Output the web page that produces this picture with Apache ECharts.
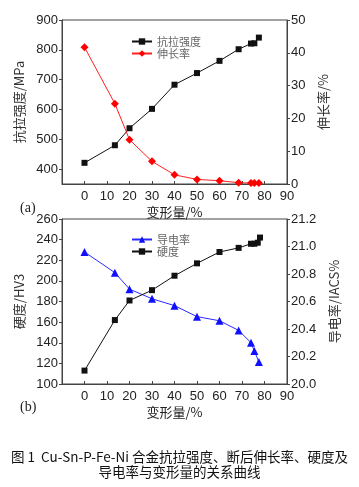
<!DOCTYPE html>
<html><head><meta charset="utf-8">
<script src="https://cdn.jsdelivr.net/npm/echarts@6/dist/echarts.min.js"></script>
<style>html,body{margin:0;padding:0;background:#fff}#c{width:359px;height:487px}</style>
</head><body><div id="c"></div>
<script>
// Top chart (a)
const deformA = [0, 13.5, 20, 30, 40, 50, 60, 68.5, 74, 75.5, 77.5];
const tensile = [421, 480, 537, 602, 683, 722, 763, 802, 821, 822, 841];
const elongation = [41.7, 24.5, 13.5, 6.9, 2.8, 1.4, 1.0, 0.4, 0.3, 0.3, 0.3];
// Bottom chart (b)
const deformH = [0, 13.5, 20, 30, 40, 50, 60, 68.5, 74, 75.5, 77, 78];
const hardness = [113, 162, 181, 191, 205, 217, 228, 232, 236, 236, 237, 242];
const deformC = [0, 13.5, 20, 30, 40, 50, 60, 68.5, 74, 75.5, 77.5];
const conductivity = [20.96, 20.81, 20.69, 20.62, 20.57, 20.49, 20.46, 20.39, 20.30, 20.24, 20.16];
const xTicks = [0, 10, 20, 30, 40, 50, 60, 70, 80, 90];
const tensileTicks = [400, 500, 600, 700, 800, 900];

const pairs = (xs, ys) => xs.map((x, i) => [x, ys[i]]);
const chart = echarts.init(document.getElementById('c'), null, {renderer: 'canvas'});
const font = 'Liberation Sans, Arial, sans-serif';
const cjk = 'Noto Sans CJK SC, sans-serif';
const axisCol = '#444';
const labelStyle = {color: '#222', fontSize: 13, fontFamily: font};

function xAxis(grid) {
  return {
    type: 'value', gridIndex: grid, min: -10, max: 90,
    name: '变形量/%', nameLocation: 'middle', nameGap: 22,
    nameTextStyle: {color: '#222', fontSize: 13, fontFamily: cjk},
    axisLine: {onZero: false, lineStyle: {color: axisCol}},
    axisTick: {inside: true, length: 3, customValues: xTicks, lineStyle: {color: axisCol}},
    axisLabel: Object.assign({customValues: xTicks, margin: 6}, labelStyle),
    splitLine: {show: false}
  };
}
function yAxis(grid, pos, opts) {
  return Object.assign({
    type: 'value', gridIndex: grid, position: pos,
    nameLocation: 'middle',
    nameTextStyle: {color: '#333', fontSize: 13, fontFamily: cjk},
    axisLine: {show: true, onZero: false, lineStyle: {color: axisCol}},
    axisTick: {show: true, length: 3, lineStyle: {color: axisCol}},
    axisLabel: Object.assign({margin: 4}, labelStyle),
    splitLine: {show: false}
  }, opts);
}

const option = {
  animation: false,
  grid: [
    {left: 62, right: 72, top: 20, height: 164, show: true, borderColor: axisCol, borderWidth: 1},
    {left: 62, right: 72, top: 219, height: 165, show: true, borderColor: axisCol, borderWidth: 1}
  ],
  xAxis: [xAxis(0), xAxis(1)],
  yAxis: [
    yAxis(0, 'left', {min: 350, max: 900, name: '抗拉强度/MPa', nameGap: 27,
      axisTick: {show: true, length: 3, customValues: tensileTicks, lineStyle: {color: axisCol}},
      axisLabel: Object.assign({margin: 4, customValues: tensileTicks}, labelStyle)}),
    yAxis(0, 'right', {min: 0, max: 50, interval: 10, name: '伸长率/%', nameGap: 23}),
    yAxis(1, 'left', {min: 100, max: 260, interval: 20, name: '硬度/HV3', nameGap: 27}),
    yAxis(1, 'right', {min: 20.0, max: 21.2, interval: 0.2, name: '导电率/IACS%', nameGap: 30,
      axisLabel: Object.assign({margin: 4, formatter: v => v.toFixed(1)}, labelStyle)})
  ],
  legend: [
    {orient: 'vertical', left: 126, top: 31, itemGap: 1, itemWidth: 20, itemHeight: 8,
     textStyle: {color: '#666', fontSize: 11, fontFamily: cjk},
     data: ['抗拉强度', '伸长率']},
    {orient: 'vertical', left: 126, top: 229, itemGap: 1, itemWidth: 20, itemHeight: 8,
     textStyle: {color: '#666', fontSize: 11, fontFamily: cjk},
     data: ['导电率', '硬度']}
  ],
  series: [
    {name: '抗拉强度', type: 'line', xAxisIndex: 0, yAxisIndex: 0, data: pairs(deformA, tensile),
     symbol: 'rect', symbolSize: 6, itemStyle: {color: '#111'}, lineStyle: {color: '#111', width: 1}},
    {name: '伸长率', type: 'line', xAxisIndex: 0, yAxisIndex: 1, data: pairs(deformA, elongation),
     symbol: 'diamond', symbolSize: 8, itemStyle: {color: '#ff0000'}, lineStyle: {color: '#ff2020', width: 1}},
    {name: '导电率', type: 'line', xAxisIndex: 1, yAxisIndex: 3, data: pairs(deformC, conductivity),
     symbol: 'triangle', symbolSize: 8, itemStyle: {color: '#1010ff'}, lineStyle: {color: '#2a2aff', width: 1}},
    {name: '硬度', type: 'line', xAxisIndex: 1, yAxisIndex: 2, data: pairs(deformH, hardness),
     symbol: 'rect', symbolSize: 6, itemStyle: {color: '#111'}, lineStyle: {color: '#111', width: 1}}
  ],
  graphic: [
    {type: 'text', left: 20, top: 201, style: {text: '(a)', fontSize: 14, fontFamily: 'Liberation Serif, serif', fill: '#222'}},
    {type: 'text', left: 20, top: 400, style: {text: '(b)', fontSize: 14, fontFamily: 'Liberation Serif, serif', fill: '#222'}},
    {type: 'text', x: 179.5, y: 457, style: {text: '图 1  Cu-Sn-P-Fe-Ni 合金抗拉强度、断后伸长率、硬度及', fontSize: 13.5, fontFamily: cjk, fill: '#111', align: 'center', verticalAlign: 'middle'}},
    {type: 'text', x: 179.5, y: 472, style: {text: '导电率与变形量的关系曲线', fontSize: 13.5, fontFamily: cjk, fill: '#111', align: 'center', verticalAlign: 'middle'}}
  ]
};
chart.setOption(option);
</script></body></html>
